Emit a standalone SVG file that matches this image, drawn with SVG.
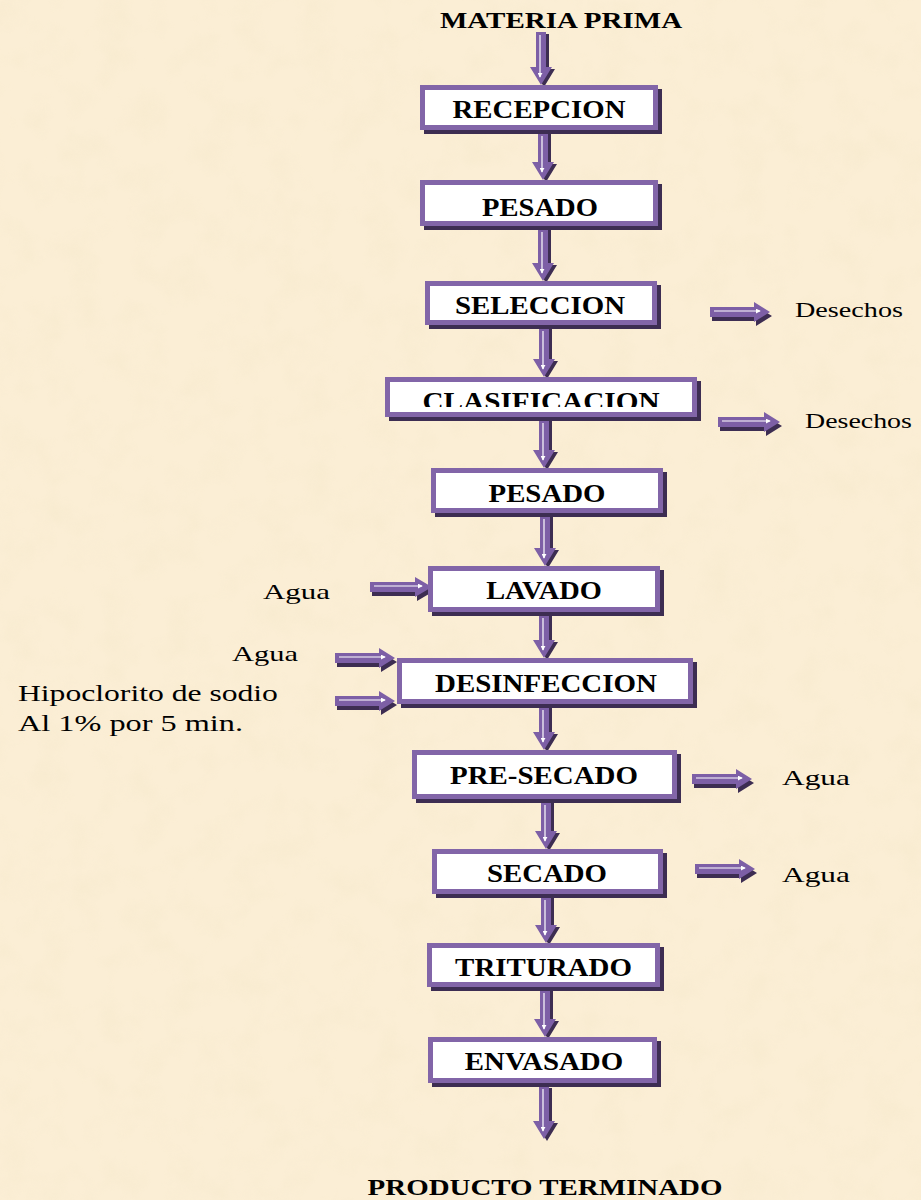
<svg xmlns="http://www.w3.org/2000/svg" width="921" height="1200" viewBox="0 0 921 1200">
<style>
.b{font-family:"Liberation Serif","Times New Roman",serif;font-weight:bold;font-size:25px;fill:#000;text-anchor:middle}
.t{font-family:"Liberation Serif","Times New Roman",serif;font-weight:bold;font-size:23px;fill:#000;text-anchor:middle}
.r{font-family:"Liberation Serif","Times New Roman",serif;font-size:22px;fill:#000}
.d{font-family:"Liberation Serif","Times New Roman",serif;font-size:21px;fill:#000}
.h{font-family:"Liberation Serif","Times New Roman",serif;font-size:24px;fill:#000}
.sh{fill:#3d2d52}
.bd{fill:#8265a8}
.in{fill:#ffffff}
.ar{fill:#7d5fa6}
.wl{stroke:#ffffff;stroke-width:1.2;fill:none;marker-end:url(#wh)}
</style>
<defs>
<filter id="paper" x="0" y="0" width="100%" height="100%">
<feTurbulence type="fractalNoise" baseFrequency="0.03" numOctaves="3" seed="4"/>
<feColorMatrix type="matrix" values="0 0 0 0 0.90  0 0 0 0 0.80  0 0 0 0 0.58  1.4 0 0 0 -0.62"/>
</filter>
<marker id="wh" viewBox="0 0 6 6" refX="5" refY="3" markerWidth="5" markerHeight="5" orient="auto" markerUnits="userSpaceOnUse">
<path d="M0 0L6 3L0 6Z" fill="#ffffff"/>
</marker>
<clipPath id="clipClas"><rect x="385" y="377" width="312" height="30"/></clipPath>
</defs>
<rect width="921" height="1200" fill="#fbeed5"/>
<rect width="921" height="1200" filter="url(#paper)" opacity="0.55"/>

<g id="connectors">
<g transform="translate(541,32)"><path class="sh" transform="translate(3,2)" d="M-5 0H5V35H11L0 53L-11 35H-5Z"/><path class="ar" d="M-5 0H5V35H11L0 53L-11 35H-5Z"/><path class="wl" d="M-1 3V45"/></g>
<g transform="translate(543,130)"><path class="sh" transform="translate(3,2)" d="M-5 0H5V32H11L0 50L-11 32H-5Z"/><path class="ar" d="M-5 0H5V32H11L0 50L-11 32H-5Z"/><path class="wl" d="M-1 6V42"/></g>
<g transform="translate(543,226)"><path class="sh" transform="translate(3,2)" d="M-5 0H5V37H11L0 55L-11 37H-5Z"/><path class="ar" d="M-5 0H5V37H11L0 55L-11 37H-5Z"/><path class="wl" d="M-1 6V47"/></g>
<g transform="translate(544,325)"><path class="sh" transform="translate(3,2)" d="M-5 0H5V34H11L0 52L-11 34H-5Z"/><path class="ar" d="M-5 0H5V34H11L0 52L-11 34H-5Z"/><path class="wl" d="M-1 6V44"/></g>
<g transform="translate(544,417)"><path class="sh" transform="translate(3,2)" d="M-5 0H5V33H11L0 51L-11 33H-5Z"/><path class="ar" d="M-5 0H5V33H11L0 51L-11 33H-5Z"/><path class="wl" d="M-1 6V43"/></g>
<g transform="translate(545,513)"><path class="sh" transform="translate(3,2)" d="M-5 0H5V35H11L0 53L-11 35H-5Z"/><path class="ar" d="M-5 0H5V35H11L0 53L-11 35H-5Z"/><path class="wl" d="M-1 6V45"/></g>
<g transform="translate(544,612)"><path class="sh" transform="translate(3,2)" d="M-5 0H5V28H11L0 46L-11 28H-5Z"/><path class="ar" d="M-5 0H5V28H11L0 46L-11 28H-5Z"/><path class="wl" d="M-1 6V38"/></g>
<g transform="translate(544,704)"><path class="sh" transform="translate(3,2)" d="M-5 0H5V28H11L0 46L-11 28H-5Z"/><path class="ar" d="M-5 0H5V28H11L0 46L-11 28H-5Z"/><path class="wl" d="M-1 6V38"/></g>
<g transform="translate(546,799)"><path class="sh" transform="translate(3,2)" d="M-5 0H5V32H11L0 50L-11 32H-5Z"/><path class="ar" d="M-5 0H5V32H11L0 50L-11 32H-5Z"/><path class="wl" d="M-1 6V42"/></g>
<g transform="translate(546,894)"><path class="sh" transform="translate(3,2)" d="M-5 0H5V31H11L0 49L-11 31H-5Z"/><path class="ar" d="M-5 0H5V31H11L0 49L-11 31H-5Z"/><path class="wl" d="M-1 6V41"/></g>
<g transform="translate(545,987)"><path class="sh" transform="translate(3,2)" d="M-5 0H5V32H11L0 50L-11 32H-5Z"/><path class="ar" d="M-5 0H5V32H11L0 50L-11 32H-5Z"/><path class="wl" d="M-1 6V42"/></g>
<g transform="translate(544,1086)"><path class="sh" transform="translate(3,2)" d="M-5 0H5V35H11L0 53L-11 35H-5Z"/><path class="ar" d="M-5 0H5V35H11L0 53L-11 35H-5Z"/><path class="wl" d="M-1 3V45"/></g>
<g transform="translate(710,312)"><path class="sh" transform="translate(2,4)" d="M0 -5H44V-10L60 0L44 10V5H0Z"/><path class="ar" d="M0 -5H44V-10L60 0L44 10V5H0Z"/><path class="wl" d="M4 -1H50"/></g>
<g transform="translate(718,422)"><path class="sh" transform="translate(2,4)" d="M0 -5H46V-10L62 0L46 10V5H0Z"/><path class="ar" d="M0 -5H46V-10L62 0L46 10V5H0Z"/><path class="wl" d="M4 -1H52"/></g>
<g transform="translate(370,587)"><path class="sh" transform="translate(2,4)" d="M0 -5H45V-10L62 0L45 10V5H0Z"/><path class="ar" d="M0 -5H45V-10L62 0L45 10V5H0Z"/><path class="wl" d="M4 -1H52"/></g>
<g transform="translate(335,658)"><path class="sh" transform="translate(2,4)" d="M0 -5H44V-10L60 0L44 10V5H0Z"/><path class="ar" d="M0 -5H44V-10L60 0L44 10V5H0Z"/><path class="wl" d="M4 -1H50"/></g>
<g transform="translate(335,701)"><path class="sh" transform="translate(2,4)" d="M0 -5H44V-10L60 0L44 10V5H0Z"/><path class="ar" d="M0 -5H44V-10L60 0L44 10V5H0Z"/><path class="wl" d="M4 -1H50"/></g>
<g transform="translate(692,779)"><path class="sh" transform="translate(2,4)" d="M0 -5H44V-10L60 0L44 10V5H0Z"/><path class="ar" d="M0 -5H44V-10L60 0L44 10V5H0Z"/><path class="wl" d="M4 -1H50"/></g>
<g transform="translate(695,869)"><path class="sh" transform="translate(2,4)" d="M0 -5H44V-10L60 0L44 10V5H0Z"/><path class="ar" d="M0 -5H44V-10L60 0L44 10V5H0Z"/><path class="wl" d="M4 -1H50"/></g>
</g>

<g id="materia-prima"><text class="t" transform="translate(561,28) scale(1.263,1)">MATERIA PRIMA</text></g>

<g id="recepcion"><rect class="sh" x="424" y="89" width="238" height="45"/><rect class="bd" x="420" y="85" width="238" height="45"/><rect class="in" x="425" y="90" width="228" height="35"/><text class="b" transform="translate(539,118) scale(1.153,1)">RECEPCION</text></g>
<g id="pesado1"><rect class="sh" x="424" y="184" width="238" height="46"/><rect class="bd" x="420" y="180" width="238" height="46"/><rect class="in" x="425" y="185" width="228" height="36"/><text class="b" transform="translate(540,216) scale(1.144,1)">PESADO</text></g>
<g id="seleccion"><rect class="sh" x="429" y="285" width="232" height="44"/><rect class="bd" x="425" y="281" width="232" height="44"/><rect class="in" x="430" y="286" width="222" height="34"/><text class="b" transform="translate(540,314) scale(1.155,1)">SELECCION</text></g>
<g id="clasificacion"><rect class="sh" x="389" y="381" width="312" height="40"/><rect class="bd" x="385" y="377" width="312" height="40"/><rect class="in" x="390" y="382" width="302" height="30"/><g clip-path="url(#clipClas)"><text class="b" transform="translate(541,410) scale(1.169,1)">CLASIFICACION</text></g></g>
<g id="pesado2"><rect class="sh" x="435" y="472" width="232" height="45"/><rect class="bd" x="431" y="468" width="232" height="45"/><rect class="in" x="436" y="473" width="222" height="35"/><text class="b" transform="translate(547,502) scale(1.154,1)">PESADO</text></g>
<g id="lavado"><rect class="sh" x="432" y="570" width="232" height="46"/><rect class="bd" x="428" y="566" width="232" height="46"/><rect class="in" x="433" y="571" width="222" height="36"/><text class="b" transform="translate(544,599) scale(1.135,1)">LAVADO</text></g>
<g id="desinfeccion"><rect class="sh" x="401" y="662" width="296" height="46"/><rect class="bd" x="397" y="658" width="296" height="46"/><rect class="in" x="402" y="663" width="286" height="36"/><text class="b" transform="translate(546,692) scale(1.158,1)">DESINFECCION</text></g>
<g id="pre-secado"><rect class="sh" x="416" y="754" width="265" height="49"/><rect class="bd" x="412" y="750" width="265" height="49"/><rect class="in" x="417" y="755" width="255" height="39"/><text class="b" transform="translate(544,784) scale(1.157,1)">PRE-SECADO</text></g>
<g id="secado"><rect class="sh" x="436" y="853" width="231" height="45"/><rect class="bd" x="432" y="849" width="231" height="45"/><rect class="in" x="437" y="854" width="221" height="35"/><text class="b" transform="translate(547,882) scale(1.152,1)">SECADO</text></g>
<g id="triturado"><rect class="sh" x="431" y="947" width="233" height="44"/><rect class="bd" x="427" y="943" width="233" height="44"/><rect class="in" x="432" y="948" width="223" height="34"/><text class="b" transform="translate(543.5,976) scale(1.158,1)">TRITURADO</text></g>
<g id="envasado"><rect class="sh" x="432" y="1041" width="229" height="46"/><rect class="bd" x="428" y="1037" width="229" height="46"/><rect class="in" x="433" y="1042" width="219" height="36"/><text class="b" transform="translate(544,1070) scale(1.155,1)">ENVASADO</text></g>

<g id="producto-terminado"><text class="t" transform="translate(545,1195) scale(1.258,1)">PRODUCTO TERMINADO</text></g>

<g id="labels">
<text class="d" transform="translate(795,317) scale(1.342,1)">Desechos</text>
<text class="d" transform="translate(805,428) scale(1.329,1)">Desechos</text>
<text class="r" transform="translate(263,599) scale(1.406,1)">Agua</text>
<text class="r" transform="translate(232,661) scale(1.385,1)">Agua</text>
<text class="h" transform="translate(18,701) scale(1.318,1)">Hipoclorito de sodio</text>
<text class="h" transform="translate(18,731) scale(1.345,1)">Al 1% por 5 min.</text>
<text class="r" transform="translate(782,785) scale(1.427,1)">Agua</text>
<text class="r" transform="translate(782,882) scale(1.427,1)">Agua</text>
</g>
</svg>
